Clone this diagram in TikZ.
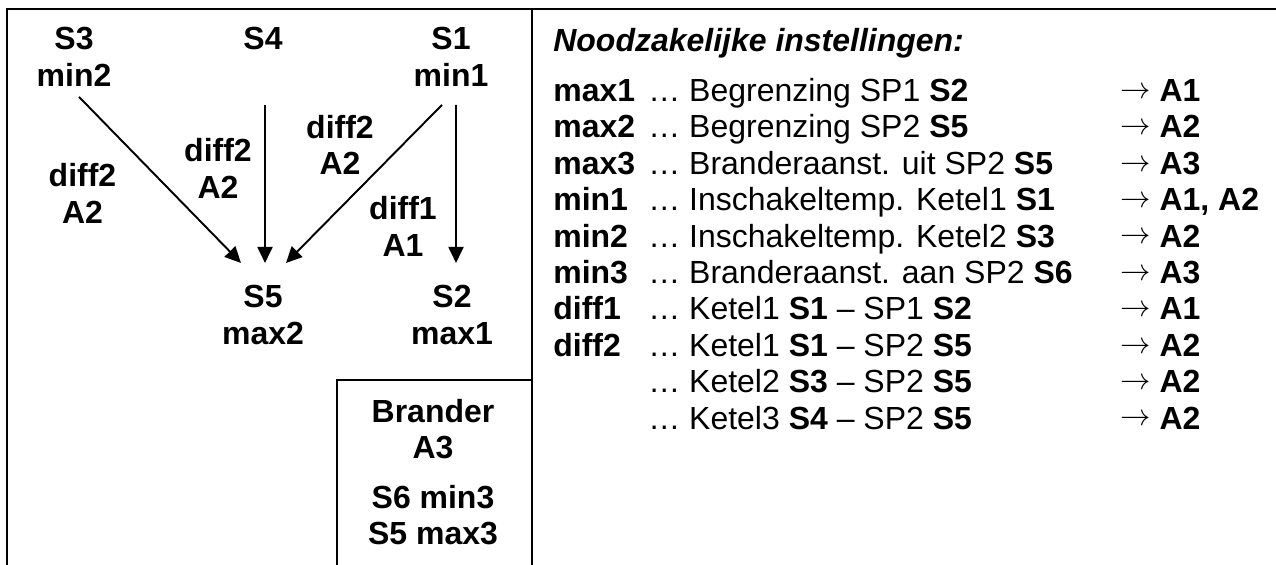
\documentclass[tikz,border=0pt]{standalone}
\usepackage{fontspec}
\setmainfont{Liberation Sans}
\usetikzlibrary{arrows.meta}

\begin{document}
\begin{tikzpicture}[
        >={Triangle[length=0.32cm,width=0.3cm]},
        every node/.style={inner sep=0pt, font=\fontsize{18.2pt}{20.9pt}\selectfont},
        sensor/.style={align=center, font=\fontsize{18.2pt}{20.9pt}\selectfont\bfseries},
        frame/.style={line width=1pt},
        arr/.style={->, line width=1.1pt}
    ]
        \useasboundingbox (0,0) rectangle (25.52,-11.3);

        % Frame
        \draw[frame] (25.52,-0.18) -- (0.14,-0.18) -- (0.14,-11.3);
        \draw[frame] (10.64,-0.18) -- (10.64,-11.3);
        \draw[frame] (10.64,-7.6) -- (6.74,-7.6) -- (6.74,-11.3);

        % Sensors
        \node[sensor] (s3) at (1.48,-1.13) {S3\\min2};
        \node[sensor] (s4) at (5.26,-0.76) {S4};
        \node[sensor] (s1) at (9.02,-1.13) {S1\\min1};
        \node[sensor] (s5) at (5.26,-6.3) {S5\\max2};
        \node[sensor] (s2) at (9.04,-6.3) {S2\\max1};

        % Burner
        \node[sensor] (brander) at (8.66,-8.58) {Brander\\A3};
        \node[sensor] (brset) at (8.66,-10.3) {S6 min3\\S5 max3};

        % Differences
        \draw[arr] ([xshift=0.1cm, yshift=-0.21cm]s3.south) -- ([xshift=-0.44cm, yshift=0.44cm]s5.north);
        \draw[arr] ([xshift=0.04cm, yshift=-1.11cm]s4.south) -- ([xshift=0.04cm, yshift=0.44cm]s5.north);
        \draw[arr] ([xshift=-0.18cm, yshift=-0.37cm]s1.south) -- ([xshift=0.46cm, yshift=0.44cm]s5.north);
        \draw[arr] ([xshift=0.1cm, yshift=-0.37cm]s1.south) -- ([xshift=0.08cm, yshift=0.44cm]s2.north);

        \node[sensor] (d31) at (1.65,-3.87) {diff2\\A2};
        \node[sensor] (d45) at (4.36,-3.37) {diff2\\A2};
        \node[sensor] (d15) at (6.8,-2.9) {diff2\\A2};
        \node[sensor] (d12) at (8.06,-4.53) {diff1\\A1};

        % Settings
        \node[anchor=base west] (title) at (11.06,-1.03) {\textbf{\textit{Noodzakelijke instellingen:}}};

        \foreach \i/\lbl in {1/max1, 2/max2, 3/max3, 4/min1, 5/min2, 6/min3, 7/diff1, 8/diff2} {
            \node[anchor=base west] (lbl\i) at (11.06, {-2.03-0.728*(\i-1)}) {\textbf{\lbl}};
        }
        \foreach \i/\txt/\res in {
            1/{Begrenzing SP1 \textbf{S2}}/A1,
            2/{Begrenzing SP2 \textbf{S5}}/A2,
            3/{Branderaanst. uit SP2 \textbf{S5}}/A3,
            4/{Inschakeltemp. Ketel1 \textbf{S1}}/{A1, A2},
            5/{Inschakeltemp. Ketel2 \textbf{S3}}/A2,
            6/{Branderaanst. aan SP2 \textbf{S6}}/A3,
            7/{Ketel1 \textbf{S1} – SP1 \textbf{S2}}/A1,
            8/{Ketel1 \textbf{S1} – SP2 \textbf{S5}}/A2,
            9/{Ketel2 \textbf{S3} – SP2 \textbf{S5}}/A2,
            10/{Ketel3 \textbf{S4} – SP2 \textbf{S5}}/A2} {
            \node[anchor=base west] (txt\i) at (12.96, {-2.03-0.728*(\i-1)}) {… \txt};
            \node[anchor=base west] (res\i) at (22.4, {-2.03-0.728*(\i-1)}) {\raisebox{0.1em}{$\rightarrow$} \textbf{\res}};
        }
    \end{tikzpicture}
\end{document}
